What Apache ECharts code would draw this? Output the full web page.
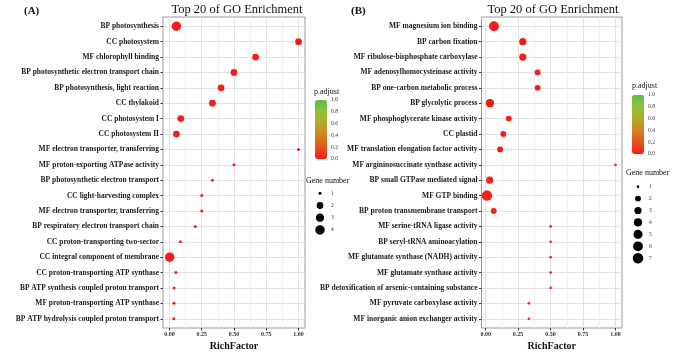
<!DOCTYPE html>
<html>
<head>
<meta charset="utf-8">
<script src="https://cdn.jsdelivr.net/npm/echarts@6/dist/echarts.min.js"></script>
<style>
  html, body { margin: 0; padding: 0; background: #fff; }
  #main { width: 682px; height: 352px; }
</style>
</head>
<body>
<div id="main"></div>
<script>
// panel A data
var termsA = [
  "BP photosynthesis", "CC photosystem", "MF chlorophyll binding",
  "BP photosynthetic electron transport chain", "BP photosynthesis, light reaction",
  "CC thylakoid", "CC photosystem I", "CC photosystem II",
  "MF electron transporter, transferring", "MF proton-exporting ATPase activity",
  "BP photosynthetic electron transport", "CC light-harvesting complex",
  "MF electron transporter, transferring", "BP respiratory electron transport chain",
  "CC proton-transporting two-sector", "CC integral component of membrane",
  "CC proton-transporting ATP synthase", "BP ATP synthesis coupled proton transport",
  "MF proton-transporting ATP synthase", "BP ATP hydrolysis coupled proton transport"
];
var richA = [0.054, 1.0, 0.667, 0.5, 0.4, 0.333, 0.088, 0.054, 1.0, 0.5,
             0.333, 0.25, 0.25, 0.2, 0.085, 0.002, 0.05, 0.036, 0.035, 0.034];
var genesA = [4, 2, 2, 2, 2, 2, 2, 2, 1, 1, 1, 1, 1, 1, 1, 4, 1, 1, 1, 1];
var padjA = [0.01, 0.01, 0.01, 0.01, 0.01, 0.01, 0.01, 0.01, 0.01, 0.01,
             0.01, 0.01, 0.01, 0.01, 0.01, 0.01, 0.01, 0.01, 0.01, 0.01];

// panel B data
var termsB = [
  "MF magnesium ion binding", "BP carbon fixation", "MF ribulose-bisphosphate carboxylase",
  "MF adenosylhomocysteinase activity", "BP one-carbon metabolic process",
  "BP glycolytic process", "MF phosphoglycerate kinase activity", "CC plastid",
  "MF translation elongation factor activity", "MF argininosuccinate synthase activity",
  "BP small GTPase mediated signal", "MF GTP binding", "BP proton transmembrane transport",
  "MF serine-tRNA ligase activity", "BP seryl-tRNA aminoacylation",
  "MF glutamate synthase (NADH) activity", "MF glutamate synthase activity",
  "BP detoxification of arsenic-containing substance", "MF pyruvate carboxylase activity",
  "MF inorganic anion exchanger activity"
];
var richB = [0.064, 0.286, 0.286, 0.4, 0.4, 0.033, 0.178, 0.136, 0.111, 1.0,
             0.031, 0.01, 0.062, 0.5, 0.5, 0.5, 0.5, 0.5, 0.333, 0.333];
var genesB = [6, 3, 3, 2, 2, 4, 2, 2, 2, 1, 3, 7, 2, 1, 1, 1, 1, 1, 1, 1];
var padjB = [0.01, 0.01, 0.01, 0.01, 0.01, 0.01, 0.01, 0.01, 0.01, 0.03,
             0.03, 0.03, 0.03, 0.06, 0.06, 0.06, 0.06, 0.06, 0.06, 0.06];

// ticks / legends
var xTicks = [0, 0.25, 0.5, 0.75, 1];
var xMinorTicks = [0.125, 0.375, 0.625, 0.875];
var geneLegendA = [1, 2, 3, 4];
var geneLegendB = [1, 2, 3, 4, 5, 6, 7];
var padjColors = ["#f41a1a", "#e4531d", "#d2831f", "#b4aa29", "#8fc239", "#5dbb45"];

var serif = "Liberation Serif";

function rowIdx(arr) {
  var r = [];
  for (var i = 0; i < arr.length; i++) r.push(i);
  return r;
}

// ggplot style area scale for the dots
function sizeFn(maxN, d0, k) {
  return function (v) {
    return d0 + k * Math.sqrt((v[2] - 1) / (maxN - 1));
  };
}

function mainX(grid, min, max) {
  return {
    gridIndex: grid, type: "value", min: min, max: max, position: "bottom",
    name: "RichFactor", nameLocation: "middle", nameGap: 10,
    nameTextStyle: { fontFamily: serif, fontWeight: "bold", fontSize: 10, color: "#111" },
    axisLine: { show: false, onZero: false },
    axisTick: { show: true, length: 2.5, lineStyle: { color: "#333" }, customValues: xTicks },
    axisLabel: {
      customValues: xTicks, margin: 3, fontFamily: serif, fontWeight: "bold",
      fontSize: 6, color: "#333",
      formatter: function (v) { return v.toFixed(2); }
    },
    splitLine: { show: true, lineStyle: { color: "#e2e2e2", width: 1 } }
  };
}

function minorX(grid, min, max) {
  return {
    gridIndex: grid, type: "value", min: min, max: max, position: "top",
    axisLine: { show: false, onZero: false },
    axisTick: { show: false, customValues: xMinorTicks },
    axisLabel: { show: false, customValues: xMinorTicks },
    splitLine: { show: true, lineStyle: { color: "#f1f1f1", width: 1 } }
  };
}

function mainY(grid, terms) {
  return {
    gridIndex: grid, type: "value", min: -0.6, max: terms.length - 0.4, inverse: true,
    position: "left",
    axisLine: { show: false, onZero: false },
    axisTick: { show: true, length: 2.5, lineStyle: { color: "#333" }, customValues: rowIdx(terms) },
    axisLabel: {
      customValues: rowIdx(terms), margin: 4, fontFamily: serif, fontWeight: "bold",
      fontSize: 7.5, color: "#1a1a1a",
      formatter: function (v) { return terms[Math.round(v)]; }
    },
    splitLine: { show: true, lineStyle: { color: "#e2e2e2", width: 1 } }
  };
}

function hiddenX(grid) {
  return { gridIndex: grid, type: "value", min: 0, max: 1, show: false };
}

function barY(grid) {
  return {
    gridIndex: grid, type: "value", min: 0, max: 1, interval: 0.2, position: "right",
    axisLine: { show: false, onZero: false },
    axisTick: { show: true, inside: true, length: 2, lineStyle: { color: "#fff" } },
    axisLabel: {
      margin: 4, fontFamily: serif, fontSize: 5.5, color: "#333",
      formatter: function (v) { return v.toFixed(1); }
    },
    splitLine: { show: false }
  };
}

function legY(grid, vals) {
  return {
    gridIndex: grid, type: "category", inverse: true, position: "right",
    data: vals.map(String),
    axisLine: { show: false, onZero: false }, axisTick: { show: false },
    axisLabel: { margin: 5, fontFamily: serif, fontSize: 5.5, color: "#333" },
    splitLine: { show: false }
  };
}

function pts(terms, rich, genes, padj) {
  return terms.map(function (t, i) { return [rich[i], i, genes[i], padj[i]]; });
}

function legPts(vals) {
  return vals.map(function (n, i) { return [0.5, i, n]; });
}

function titleText(text, left, top, size, bold, align) {
  var t = {
    text: text, left: left, top: top, padding: 0,
    textStyle: { fontFamily: serif, fontSize: size, fontWeight: bold ? "bold" : "normal", color: "#111" }
  };
  if (align) t.textAlign = align;
  return t;
}

function gridBox(left, top, width, height, border) {
  var g = { left: left, top: top, width: width, height: height, outerBoundsMode: "none", containLabel: false };
  if (border) {
    g.show = true;
    g.borderColor = "#9a9a9a";
    g.borderWidth = 1;
  }
  return g;
}

var chart = echarts.init(document.getElementById("main"), null, { renderer: "canvas" });

var option = {
  backgroundColor: "#fff",
  animation: false,
  title: [
    titleText("(A)", 24, 6, 11, true),
    titleText("Top 20 of GO Enrichment", 237, 3, 12.5, false, "center"),
    titleText("(B)", 351, 6, 11, true),
    titleText("Top 20 of GO Enrichment", 553, 3, 12.5, false, "center"),
    titleText("p.adjust", 314, 87.5, 8, false),
    titleText("p.adjust", 632, 82, 8, false),
    titleText("Gene number", 306, 176.5, 8, false),
    titleText("Gene number", 626, 169, 8, false)
  ],
  grid: [
    gridBox(163, 17, 142, 311, true),
    gridBox(481.5, 17, 140.5, 311, true),
    gridBox(315, 100, 12, 59),
    gridBox(632, 95, 12, 59),
    gridBox(314, 187.2, 12, 48.8),
    gridBox(632, 180.7, 12, 83.5)
  ],
  xAxis: [
    mainX(0, -0.05, 1.05),
    minorX(0, -0.05, 1.05),
    mainX(1, -0.032, 1.05),
    minorX(1, -0.032, 1.05),
    hiddenX(2),
    hiddenX(3),
    hiddenX(4),
    hiddenX(5)
  ],
  yAxis: [
    mainY(0, termsA),
    mainY(1, termsB),
    barY(2),
    barY(3),
    legY(4, geneLegendA),
    legY(5, geneLegendB)
  ],
  visualMap: [
    {
      type: "continuous", min: 0, max: 1, seriesIndex: 0, dimension: 3,
      left: 315, top: 100, itemWidth: 12, itemHeight: 59, padding: 0,
      calculable: false, hoverLink: false,
      inRange: { color: padjColors }
    },
    {
      type: "continuous", min: 0, max: 1, seriesIndex: 1, dimension: 3,
      left: 632, top: 95, itemWidth: 12, itemHeight: 59, padding: 0,
      calculable: false, hoverLink: false,
      inRange: { color: padjColors }
    }
  ],
  series: [
    {
      type: "scatter", xAxisIndex: 0, yAxisIndex: 0,
      data: pts(termsA, richA, genesA, padjA),
      symbolSize: sizeFn(4, 3, 6.5),
      itemStyle: { opacity: 1 }
    },
    {
      type: "scatter", xAxisIndex: 2, yAxisIndex: 1,
      data: pts(termsB, richB, genesB, padjB),
      symbolSize: sizeFn(7, 2.7, 7.8),
      itemStyle: { opacity: 1 }
    },
    {
      type: "scatter", xAxisIndex: 6, yAxisIndex: 4,
      data: legPts(geneLegendA),
      symbolSize: sizeFn(4, 3, 6.5),
      itemStyle: { color: "#000", opacity: 1 }
    },
    {
      type: "scatter", xAxisIndex: 7, yAxisIndex: 5,
      data: legPts(geneLegendB),
      symbolSize: sizeFn(7, 2.7, 7.8),
      itemStyle: { color: "#000", opacity: 1 }
    }
  ]
};

chart.setOption(option);
</script>
</body>
</html>
